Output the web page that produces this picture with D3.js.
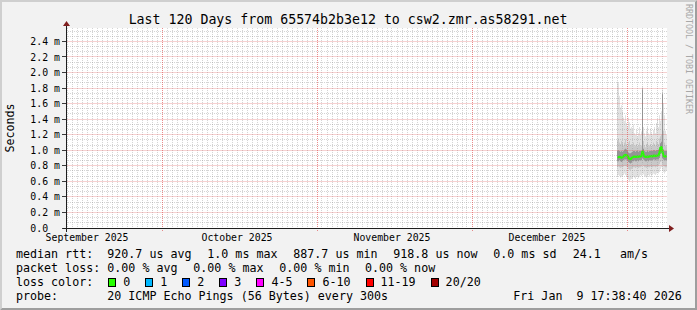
<!DOCTYPE html>
<html>
<head>
<meta charset="utf-8">
<style>
  html, body { margin: 0; padding: 0; background: #f2f2f2; }
  svg { display: block; }
  text { font-family: "DejaVu Sans Mono", monospace; white-space: pre; fill: #000; }
</style>
<script src="https://cdn.jsdelivr.net/npm/d3@7"></script>
</head>
<body>
<svg id="chart" width="697" height="310"></svg>
<script>
// time window of the graph and the samples (one sample per 4.8 h column)
const rangeStart = new Date(Date.UTC(2025, 8, 12));
const rangeEnd = new Date(Date.UTC(2026, 0, 10));
const firstSample = new Date(Date.UTC(2025, 11, 31));
const stepHours = 4.8;
const yMax = 2.572; // ms

// rtt in ms, one value per column
const rttMedian = [0.91, 0.91, 0.915, 0.91, 0.905, 0.91, 0.92, 0.935, 0.94, 0.935,
  0.93, 0.9, 0.89, 0.885, 0.895, 0.91, 0.915, 0.92, 0.915, 0.915,
  0.92, 0.915, 0.92, 0.92, 0.925, 0.985, 0.94, 0.92, 0.915, 0.915,
  0.92, 0.915, 0.92, 0.925, 0.925, 0.92, 0.93, 0.93, 0.925, 0.93,
  0.93, 0.935, 0.97, 1.03, 1.04, 0.98, 0.93, 0.92, 0.92, 0.925];
const rttMax = [1.88, 1.86, 1.7, 1.55, 1.58, 1.5, 1.42, 1.38, 1.45, 1.35,
  1.3, 1.42, 1.36, 1.28, 1.3, 1.25, 1.33, 1.22, 1.2, 1.26,
  1.18, 1.22, 1.3, 1.2, 1.24, 1.82, 1.3, 1.22, 1.18, 1.25,
  1.3, 1.22, 1.2, 1.28, 1.22, 1.2, 1.26, 1.3, 1.22, 1.35,
  1.4, 1.3, 1.45, 1.38, 1.5, 1.78, 1.6, 1.45, 1.25, 1.2];
const rttP90 = [1.12, 1.15, 1.1, 1.08, 1.12, 1.1, 1.06, 1.1, 1.14, 1.08,
  1.05, 1.1, 1.12, 1.06, 1.08, 1.04, 1.1, 1.05, 1.06, 1.08,
  1.04, 1.06, 1.1, 1.05, 1.06, 1.8, 1.12, 1.06, 1.04, 1.08,
  1.1, 1.05, 1.06, 1.08, 1.05, 1.06, 1.1, 1.08, 1.06, 1.12,
  1.1, 1.08, 1.15, 1.18, 1.2, 1.74, 1.25, 1.1, 1.06, 1.05];
const rttP75 = [0.99, 1.0, 0.99, 0.98, 0.99, 0.98, 0.99, 1.01, 1.02, 1.01,
  0.99, 0.97, 0.96, 0.96, 0.97, 0.98, 0.99, 0.99, 0.98, 0.99,
  0.99, 0.98, 0.99, 0.99, 0.99, 1.78, 1.02, 0.99, 0.98, 0.98,
  0.99, 0.98, 0.99, 0.99, 0.99, 0.99, 1.0, 1.0, 0.99, 1.0,
  1.0, 1.01, 1.04, 1.09, 1.11, 1.72, 1.01, 0.99, 0.99, 0.99];
const rttP25 = [0.86, 0.86, 0.87, 0.86, 0.85, 0.86, 0.87, 0.88, 0.88, 0.88,
  0.87, 0.85, 0.84, 0.83, 0.84, 0.86, 0.86, 0.87, 0.86, 0.86,
  0.87, 0.86, 0.87, 0.87, 0.87, 0.9, 0.88, 0.87, 0.86, 0.86,
  0.87, 0.86, 0.87, 0.87, 0.87, 0.87, 0.88, 0.88, 0.87, 0.88,
  0.88, 0.88, 0.9, 0.95, 0.96, 0.9, 0.88, 0.87, 0.87, 0.87];
const rttP10 = [0.78, 0.79, 0.78, 0.77, 0.78, 0.78, 0.79, 0.8, 0.8, 0.79,
  0.78, 0.76, 0.75, 0.75, 0.76, 0.77, 0.78, 0.78, 0.77, 0.78,
  0.78, 0.77, 0.78, 0.78, 0.79, 0.82, 0.8, 0.78, 0.78, 0.77,
  0.78, 0.78, 0.78, 0.79, 0.78, 0.78, 0.79, 0.79, 0.78, 0.79,
  0.8, 0.8, 0.82, 0.85, 0.86, 0.82, 0.8, 0.79, 0.78, 0.78];
const rttMin = [0.66, 0.68, 0.67, 0.65, 0.66, 0.67, 0.68, 0.7, 0.68, 0.66,
  0.64, 0.62, 0.6, 0.62, 0.63, 0.64, 0.66, 0.65, 0.63, 0.66,
  0.67, 0.64, 0.66, 0.68, 0.67, 0.7, 0.69, 0.67, 0.66, 0.65,
  0.67, 0.68, 0.66, 0.69, 0.67, 0.68, 0.7, 0.69, 0.68, 0.7,
  0.71, 0.7, 0.72, 0.76, 0.78, 0.74, 0.72, 0.7, 0.72, 0.74];

// axes
const yTicks = [0, 0.2, 0.4, 0.6, 0.8, 1.0, 1.2, 1.4, 1.6, 1.8, 2.0, 2.2, 2.4];
const yTickLabels = ["0.0", "0.2 m", "0.4 m", "0.6 m", "0.8 m", "1.0 m", "1.2 m",
  "1.4 m", "1.6 m", "1.8 m", "2.0 m", "2.2 m", "2.4 m"];
const majorGridDates = ["2025-10-01", "2025-11-01", "2025-12-02", "2026-01-02"];
const monthLabels = ["September 2025", "October 2025", "November 2025", "December 2025"];
const monthLabelDates = ["2025-09-16", "2025-10-16", "2025-11-16", "2025-12-17"];

// texts
const title = "Last 120 Days from 65574b2b3e12 to csw2.zmr.as58291.net";
const yTitle = "Seconds";
const rttLegend = ["median rtt:", "920.7 us avg", "1.0 ms max", "887.7 us min",
  "918.8 us now", "0.0 ms sd", "24.1", "am/s"];
const lossLegend = ["packet loss:", "0.00 % avg", "0.00 % max", "0.00 % min", "0.00 % now"];
const lossColorTitle = "loss color:";
const lossLabels = ["0", "1", "2", "3", "4-5", "6-10", "11-19", "20/20"];
const lossColors = ["#26ff00", "#00b8ff", "#0059ff", "#7e00ff", "#ff00ff", "#ff5500", "#ff0000", "#a10000"];
const probeLegend = ["probe:", "20 ICMP Echo Pings (56 Bytes) every 300s", "Fri Jan  9 17:38:40 2026"];
const watermark = "RRDTOOL / TOBI OETIKER";

const width = 697;
const height = 310;
const plot = { left: 67, right: 667, top: 28, bottom: 228 };
const svg = d3.select("#chart");
const crisp = (v) => Math.floor(v) + 0.5;
const parseDay = d3.utcParse("%Y-%m-%d");

const x = d3.scaleUtc().domain([rangeStart, rangeEnd]).range([plot.left, plot.right]);
const y = d3.scaleLinear().domain([0, yMax]).range([plot.bottom, plot.top]);

// background + 3d frame
svg.append("rect").attr("width", width).attr("height", height).attr("fill", "#f2f2f2");
svg.append("polygon")
  .attr("points", `0,0 ${width},0 ${width - 2},2 2,2 2,${height - 2} 0,${height}`)
  .attr("fill", "#cfcfcf");
svg.append("polygon")
  .attr("points", `${width},0 ${width},${height} 0,${height} 2,${height - 2} ${width - 2},${height - 2} ${width - 2},2`)
  .attr("fill", "#9e9e9e");
svg.append("rect")
  .attr("x", plot.left).attr("y", plot.top)
  .attr("width", plot.right - plot.left).attr("height", plot.bottom - plot.top)
  .attr("fill", "#ffffff");

svg.append("defs").append("clipPath").attr("id", "plotclip")
  .append("rect")
  .attr("x", plot.left).attr("y", plot.top)
  .attr("width", plot.right - plot.left).attr("height", plot.bottom - plot.top);

// samples
const stepMs = stepHours * 3600 * 1000;
const samples = rttMedian.map((m, i) => ({
  t: new Date(firstSample.getTime() + i * stepMs),
  med: m, min: rttMin[i], p10: rttP10[i], p25: rttP25[i],
  p75: rttP75[i], p90: rttP90[i], max: rttMax[i]
}));
const last = samples[samples.length - 1];
const stepped = samples.concat([{ ...last, t: new Date(last.t.getTime() + stepMs) }]);

const g = svg.append("g").attr("clip-path", "url(#plotclip)");
const smokeLayers = [
  { lo: "min", hi: "max", color: "#e2e2e2" },
  { lo: "p10", hi: "p90", color: "#c9c9c9" },
  { lo: "p25", hi: "p75", color: "#959595" }
];
smokeLayers.forEach((layer) => {
  const area = d3.area()
    .x((d) => x(d.t))
    .y0((d) => y(d[layer.lo]))
    .y1((d) => y(d[layer.hi]))
    .curve(d3.curveStepAfter);
  g.append("path").datum(stepped).attr("d", area).attr("fill", layer.color);
});

const medianLine = d3.line()
  .x((d) => x(new Date(d.t.getTime() + stepMs / 2)))
  .y((d) => y(d.med));
g.append("path").datum(samples)
  .attr("d", medianLine)
  .attr("fill", "none")
  .attr("stroke", lossColors[0])
  .attr("stroke-width", 2.2)
  .attr("stroke-linejoin", "round");

// grid (drawn over the data like rrdtool)
const grid = svg.append("g");
const minorColor = "rgba(143,143,143,0.38)";
const majorColor = "rgba(222,79,79,0.65)";
const majorTimes = majorGridDates.map((s) => +parseDay(s));

const days = d3.utcDay.range(rangeStart, rangeEnd).filter((d) => !majorTimes.includes(+d));
grid.selectAll("line.vminor").data(days).enter().append("line")
  .attr("class", "vminor")
  .attr("x1", (d) => crisp(x(d))).attr("x2", (d) => crisp(x(d)))
  .attr("y1", plot.top).attr("y2", plot.bottom + 2)
  .attr("stroke", minorColor).attr("stroke-dasharray", "1,1");

const minorStep = 0.2 / 3;
const yMinor = d3.range(1, Math.floor(yMax / minorStep) + 1)
  .filter((k) => k % 3 !== 0)
  .map((k) => k * minorStep);
grid.selectAll("line.hminor").data(yMinor).enter().append("line")
  .attr("class", "hminor")
  .attr("x1", plot.left - 1).attr("x2", plot.right)
  .attr("y1", (d) => crisp(y(d))).attr("y2", (d) => crisp(y(d)))
  .attr("stroke", minorColor).attr("stroke-dasharray", "1,1");

// major horizontal lines: light red, so they read as the dotted rrdtool rule
grid.selectAll("line.hmajor").data(yTicks.slice(1)).enter().append("line")
  .attr("class", "hmajor")
  .attr("x1", plot.left).attr("x2", plot.right)
  .attr("y1", (d) => crisp(y(d))).attr("y2", (d) => crisp(y(d)))
  .attr("stroke", "rgba(222,79,79,0.26)");

grid.selectAll("line.vmajor").data(majorGridDates.map(parseDay)).enter().append("line")
  .attr("class", "vmajor")
  .attr("x1", (d) => crisp(x(d))).attr("x2", (d) => crisp(x(d)))
  .attr("y1", plot.top).attr("y2", plot.bottom + 3)
  .attr("stroke", majorColor).attr("stroke-dasharray", "1,1");

// y ticks
grid.selectAll("line.ytick").data(yTicks).enter().append("line")
  .attr("class", "ytick")
  .attr("x1", plot.left - 5).attr("x2", plot.left - 1)
  .attr("y1", (d) => crisp(y(d))).attr("y2", (d) => crisp(y(d)))
  .attr("stroke", "#3a3a3a");

// axes + arrows
const axis = svg.append("g").attr("shape-rendering", "crispEdges");
axis.append("line")
  .attr("x1", plot.left - 4).attr("x2", plot.right + 3)
  .attr("y1", plot.bottom + 0.5).attr("y2", plot.bottom + 0.5)
  .attr("stroke", "#1f1f1f");
axis.append("line")
  .attr("x1", plot.left - 0.5).attr("x2", plot.left - 0.5)
  .attr("y1", plot.bottom + 4).attr("y2", plot.top - 3)
  .attr("stroke", "#1f1f1f");
svg.append("polygon")
  .attr("points", `${plot.right + 2},${plot.bottom - 3} ${plot.right + 2},${plot.bottom + 4} ${plot.right + 7},${plot.bottom + 0.5}`)
  .attr("fill", "#801f1f");
svg.append("polygon")
  .attr("points", `${plot.left - 4},${plot.top - 2} ${plot.left + 3},${plot.top - 2} ${plot.left - 0.5},${plot.top - 7}`)
  .attr("fill", "#801f1f");

// tick labels
svg.selectAll("text.ylab").data(yTicks).enter().append("text")
  .attr("class", "ylab")
  .attr("x", 30.3)
  .attr("y", (d) => y(d) + 3.6)
  .style("font-size", "9.83px")
  .text((d, i) => yTickLabels[i]);

svg.selectAll("text.xlab").data(monthLabelDates).enter().append("text")
  .attr("class", "xlab")
  .attr("x", (d) => x(parseDay(d)))
  .attr("y", 241.3)
  .attr("text-anchor", "middle")
  .style("font-size", "9.83px")
  .text((d, i) => monthLabels[i]);

// titles
svg.append("text")
  .attr("x", 348).attr("y", 23.5)
  .attr("text-anchor", "middle")
  .style("font-size", "13.26px")
  .text(title);

svg.append("text")
  .attr("transform", `translate(14,${(plot.top + plot.bottom) / 2}) rotate(-90)`)
  .attr("text-anchor", "middle")
  .style("font-size", "11.66px")
  .text(yTitle);

svg.append("text")
  .attr("transform", "translate(685.5,4) rotate(90)")
  .style("font-size", "8.3px")
  .style("fill", "#a8a8a8")
  .text(watermark);

// legend
const legendFont = "11.66px";
const charW = 7.02;
const rowBase = [258.3, 272.3, 286.3, 300.2];
const rttCols = [16, 107.3, 207.3, 293.3, 393.3, 493.3, 572.7, 620];
const lossCols = [16, 107.3, 193.3, 279.3, 365];
const probeCols = [16, 107.3, 513.3];

function legendRow(items, cols, base) {
  svg.selectAll(null).data(items).enter().append("text")
    .attr("x", (d, i) => cols[i])
    .attr("y", base)
    .style("font-size", legendFont)
    .text((d) => d);
}
legendRow(rttLegend, rttCols, rowBase[0]);
legendRow(lossLegend, lossCols, rowBase[1]);
legendRow([lossColorTitle], [16], rowBase[2]);
legendRow(probeLegend, probeCols, rowBase[3]);

let sx = 108.3;
lossLabels.forEach((label, i) => {
  svg.append("rect")
    .attr("x", Math.round(sx) + 0.5).attr("y", rowBase[2] - 8)
    .attr("width", 7).attr("height", 8)
    .attr("fill", lossColors[i])
    .attr("stroke", "#000")
    .attr("shape-rendering", "crispEdges");
  svg.append("text")
    .attr("x", sx + 15).attr("y", rowBase[2])
    .style("font-size", legendFont)
    .text(label);
  sx += 15 + charW * label.length + 15;
});
</script>
</body>
</html>
